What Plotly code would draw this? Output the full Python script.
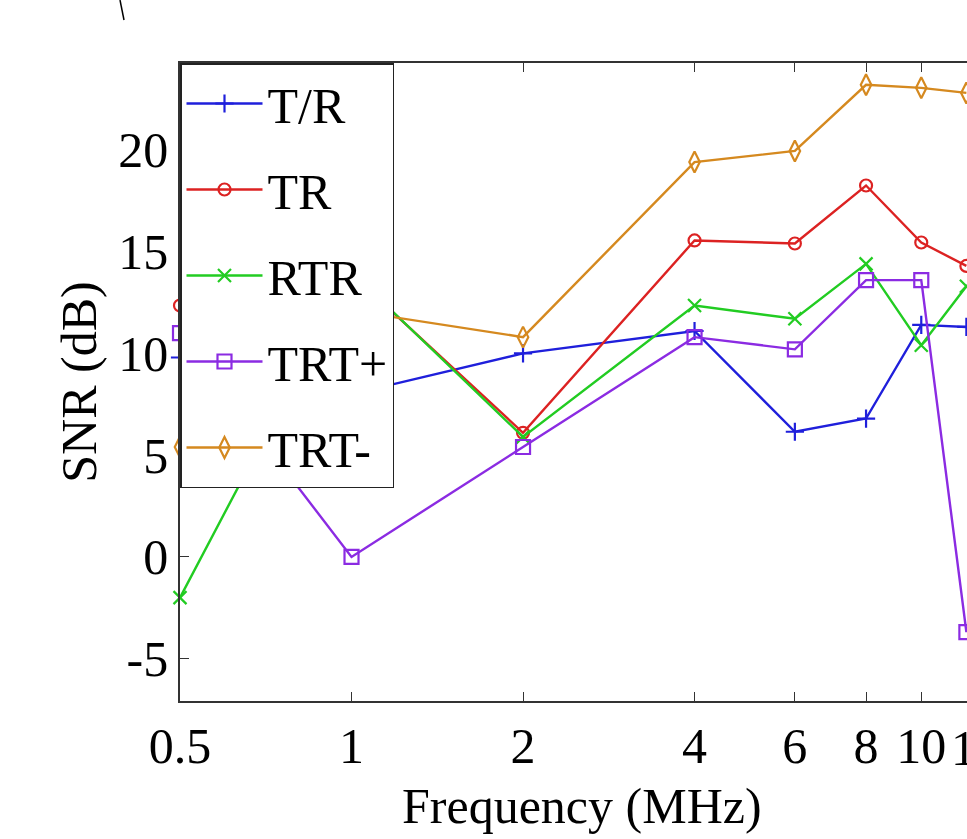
import numpy as np
import plotly.graph_objects as go

# Frequency points (MHz)
freq = [0.5, 1, 2, 4, 6, 8, 10, 12]

# SNR (dB) per configuration
snr_tr_slash = [9.8, 8.0, 10.0, 11.1, 6.15, 6.8, 11.4, 11.3]
snr_tr = [12.35, 13.9, 6.1, 15.55, 15.4, 18.25, 15.45, 14.3]
snr_rtr = [-2.0, 14.0, 5.9, 12.35, 11.7, 14.4, 10.4, 13.3]
snr_trt_plus = [11.0, 0.0, 5.4, 10.8, 10.2, 13.6, 13.6, -3.7]
snr_trt_minus = [5.4, 12.1, 10.8, 19.4, 19.95, 23.2, 23.05, 22.8]

series_names = ["T/R", "TR", "RTR", "TRT+", "TRT-"]

x_ticks = [0.5, 1, 2, 4, 6, 8, 10, 12]
x_tick_text = ["0.5", "1", "2", "4", "6", "8", "10", "12"]
y_ticks = [-5, 0, 5, 10, 15, 20]
y_tick_text = ["-5", "0", "5", "10", "15", "20"]

FONT = "Liberation Serif, Times New Roman, serif"

styles = [
    dict(color="#1f1fdb", symbol="cross-thin-open", size=13),
    dict(color="#dc2222", symbol="circle-open", size=12),
    dict(color="#22cc22", symbol="x-thin-open", size=13),
    dict(color="#8b2be2", symbol="square-open", size=14),
    dict(color="#d5891f", symbol="diamond-tall-open", size=15),
]

all_series = [snr_tr_slash, snr_tr, snr_rtr, snr_trt_plus, snr_trt_minus]

fig = go.Figure()
for i, (name, vals, st) in enumerate(zip(series_names, all_series, styles)):
    fig.add_trace(go.Scatter(
        x=freq, y=vals, name=name, mode="lines+markers",
        legendgroup=f"g{i}",
        line=dict(color=st["color"], width=2.4),
        marker=dict(symbol=st["symbol"], size=st["size"],
                    color=st["color"], line=dict(color=st["color"], width=2.2)),
        cliponaxis=False,
    ))

plot_l = 180
plot_w = 967 - plot_l
x_lo = np.log10(0.5)
x_hi = np.log10(12.03)

annotations = [
    dict(text="Frequency (MHz)", xref="paper", yref="paper",
         x=(582 - plot_l) / plot_w, y=-(806 - 701) / 638,
         xanchor="center", yanchor="middle", showarrow=False,
         font=dict(family=FONT, size=50, color="black")),
]
# the last tick label sits at the axis end, drawn as an annotation
for v, t in zip(x_ticks, x_tick_text):
    lv = np.log10(v)
    if lv > np.log10(10) + 1e-9:
        annotations.append(dict(
            text=t, xref="paper", yref="paper",
            x=(lv - x_lo) / (x_hi - x_lo), y=-(748 - 701) / 638,
            xanchor="center", yanchor="middle", showarrow=False, xshift=10,
            font=dict(family=FONT, size=50, color="black")))

fig.update_layout(
    width=967, height=839,
    margin=dict(l=plot_l, r=0, t=63, b=138),
    paper_bgcolor="white", plot_bgcolor="white",
    font=dict(family=FONT, size=50, color="black"),
    showlegend=True,
    legend=dict(
        x=0, y=1, xanchor="left", yanchor="top",
        bgcolor="white", bordercolor="#222", borderwidth=1.5,
        font=dict(family=FONT, size=50, color="black"),
        tracegroupgap=18, itemwidth=76,
    ),
    xaxis=dict(
        type="log", range=[x_lo, x_hi],
        tickvals=x_ticks[:-1], ticktext=x_tick_text[:-1],
        ticks="inside", ticklen=9, tickwidth=1.2, tickcolor="#333",
        showline=True, linecolor="#333", linewidth=1.5, mirror="ticks",
        showgrid=False, zeroline=False,
        tickfont=dict(family=FONT, size=50, color="black"),
    ),
    yaxis=dict(
        range=[-7.08, 24.27],
        tickvals=y_ticks, ticktext=y_tick_text,
        ticks="inside", ticklen=9, tickwidth=1.2, tickcolor="#333",
        showline=True, linecolor="#333", linewidth=1.5, mirror=False,
        showgrid=False, zeroline=False,
        tickfont=dict(family=FONT, size=50, color="black"),
        title=dict(text="SNR (dB)", font=dict(family=FONT, size=50), standoff=6),
    ),
    annotations=annotations,
    shapes=[
        dict(type="line", xref="paper", yref="paper",
             x0=(120 - plot_l) / plot_w, y0=(701 - 0) / 638,
             x1=(124 - plot_l) / plot_w, y1=(701 - 20) / 638,
             line=dict(color="black", width=1.5)),
    ],
)

fig.write_html("out.html")
